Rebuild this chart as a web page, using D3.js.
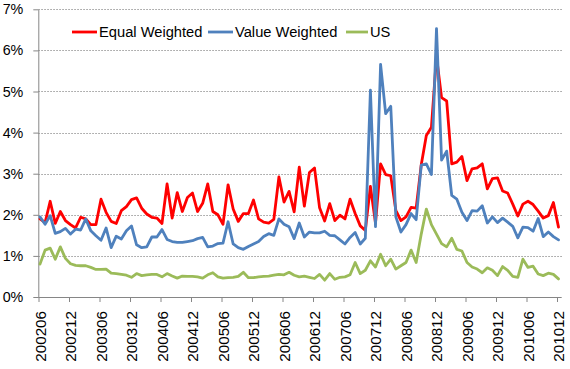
<!DOCTYPE html>
<html>
<head>
<meta charset="utf-8">
<script src="https://cdn.jsdelivr.net/npm/d3@7"></script>
<style>
  html, body { margin: 0; padding: 0; background: #fff; }
  svg { display: block; font-family: "Liberation Sans", Arial, sans-serif; }
</style>
</head>
<body>
<svg id="chart" width="570" height="369"></svg>
<script>
// ---- data ----
const startYear = 2002, startMonth = 6, nMonths = 103;
const categories = [];
for (let k = 0; k < nMonths; k++) {
  const m = startMonth - 1 + k;
  const yy = startYear + Math.floor(m / 12);
  const mm = (m % 12) + 1;
  categories.push(String(yy) + (mm < 10 ? "0" : "") + mm);
}
const tickLabels = ["200206","200212","200306","200312","200406","200412","200506","200512","200606",
  "200612","200706","200712","200806","200812","200906","200912","201006","201012"];
const yTickValues = [0, 1, 2, 3, 4, 5, 6, 7];
const seriesNames = ["Equal Weighted", "Value Weighted", "US"];

const equalWeighted = [
  1.90,1.81,2.33,1.79,2.08,1.86,1.76,1.68,1.94,1.90,
  1.76,1.76,2.38,2.06,1.84,1.79,2.10,2.20,2.37,2.41,
  2.16,2.02,1.94,1.92,1.79,2.75,1.92,2.54,2.08,2.42,
  2.53,2.08,2.28,2.75,2.08,2.00,1.77,2.73,2.14,1.84,
  2.03,2.03,2.36,1.90,1.82,1.80,1.89,2.92,2.31,2.57,
  2.07,3.16,2.21,3.03,3.14,2.17,1.85,2.27,1.86,1.99,
  1.90,2.38,2.03,1.73,1.62,2.69,1.80,3.24,2.98,2.95,
  2.11,1.86,1.95,2.18,2.16,3.22,3.93,4.13,5.85,4.85,
  4.77,3.24,3.28,3.42,2.83,3.12,3.14,3.24,2.63,2.88,
  2.90,2.58,2.53,2.26,1.97,2.26,2.33,2.25,2.09,1.92,
  1.98,2.30,1.70];
const valueWeighted = [
  1.95,1.77,1.98,1.55,1.59,1.67,1.53,1.65,1.63,1.90,
  1.61,1.49,1.38,1.68,1.20,1.48,1.41,1.61,1.73,1.27,
  1.20,1.22,1.46,1.46,1.64,1.40,1.35,1.33,1.33,1.35,
  1.37,1.42,1.45,1.22,1.24,1.30,1.31,1.83,1.29,1.20,
  1.16,1.23,1.29,1.35,1.47,1.54,1.50,1.90,1.77,1.71,
  1.42,1.80,1.46,1.58,1.56,1.56,1.60,1.50,1.49,1.39,
  1.29,1.45,1.57,1.29,1.43,5.03,1.71,5.66,4.46,4.64,
  1.95,1.58,1.76,2.03,1.88,3.21,3.24,2.98,6.53,3.33,
  3.55,2.47,2.38,2.06,1.86,2.10,2.09,2.22,1.80,1.95,
  1.81,1.92,1.82,1.72,1.44,1.70,1.69,1.60,1.91,1.47,
  1.58,1.47,1.39];
const us = [
  0.80,1.14,1.19,0.92,1.22,0.94,0.81,0.77,0.76,0.76,
  0.72,0.67,0.67,0.68,0.58,0.57,0.55,0.53,0.48,0.57,
  0.52,0.54,0.55,0.55,0.49,0.57,0.51,0.46,0.51,0.50,
  0.50,0.49,0.46,0.54,0.59,0.49,0.46,0.47,0.48,0.50,
  0.60,0.47,0.47,0.49,0.50,0.51,0.53,0.55,0.54,0.60,
  0.53,0.49,0.51,0.48,0.45,0.55,0.41,0.57,0.43,0.48,
  0.49,0.54,0.84,0.57,0.65,0.88,0.73,1.04,0.76,0.92,
  0.68,0.76,0.84,1.14,0.84,1.53,2.14,1.76,1.53,1.30,
  1.22,1.43,1.16,1.12,0.84,0.73,0.68,0.59,0.71,0.65,
  0.52,0.74,0.65,0.50,0.48,0.92,0.72,0.75,0.56,0.52,
  0.58,0.55,0.44];

// ---- layout ----
const colors = ["#ff0000", "#4f81bd", "#9bbb59"];
const svg = d3.select("#chart");
const plotLeft = 38.3, plotRight = 561.7, plotTop = 9.3, plotBottom = 297;

const x = d3.scaleLinear().domain([0, nMonths - 1]).range([40, 558.5]);
const y = d3.scaleLinear().domain([0, 7]).range([plotBottom, plotTop]);

// gridlines
svg.append("g").selectAll("line").data(yTickValues.filter(v => v > 0)).join("line")
  .attr("x1", plotLeft).attr("x2", plotRight + 1)
  .attr("y1", d => Math.round(y(d)) + 0.5).attr("y2", d => Math.round(y(d)) + 0.5)
  .attr("stroke", "#9a9a9a").attr("stroke-width", 1).attr("stroke-dasharray", "1.5,1.5");

// y axis
const yAxis = d3.axisLeft(y).tickValues(yTickValues).tickFormat(d => d + "%")
  .tickSizeInner(5).tickSizeOuter(0).tickPadding(10);
const gy = svg.append("g").attr("transform", `translate(${plotLeft},0)`).call(yAxis);
gy.select(".domain").attr("stroke", "#868686");
gy.selectAll(".tick line").attr("stroke", "#868686");
gy.selectAll(".tick text").attr("font-size", "14.3px").attr("fill", "#000")
  .attr("font-family", "'Liberation Sans', Arial, sans-serif");

// x axis
const tickIdx = tickLabels.map(l => categories.indexOf(l));
const xAxis = d3.axisBottom(x).tickValues(tickIdx).tickFormat(i => categories[i])
  .tickSizeInner(5).tickSizeOuter(0);
const gx = svg.append("g").attr("transform", `translate(0,${plotBottom})`).call(xAxis);
gx.select(".domain").remove();
gx.append("line").attr("x1", plotLeft).attr("x2", plotRight).attr("y1", 0.5).attr("y2", 0.5)
  .attr("stroke", "#868686");
gx.selectAll(".tick line").attr("stroke", "#868686").attr("transform", "translate(-1.5,0)");
gx.selectAll(".tick text")
  .attr("font-size", "15.2px").attr("fill", "#000")
  .attr("font-family", "'Liberation Sans', Arial, sans-serif")
  .attr("text-anchor", "end")
  .attr("transform", "translate(0,14) rotate(-90)")
  .attr("x", 0).attr("y", 0).attr("dy", "0.36em");

// lines
const series = [equalWeighted, valueWeighted, us];
const line = d3.line().x((d, i) => x(i)).y(d => y(d));
svg.append("g").selectAll("path").data(series).join("path")
  .attr("d", d => line(d))
  .attr("fill", "none")
  .attr("stroke", (d, i) => colors[i])
  .attr("stroke-width", 2.8)
  .attr("stroke-linejoin", "round")
  .attr("stroke-linecap", "round");

// legend
const legendItems = [
  { x: 72, len: 25 },
  { x: 208, len: 25 },
  { x: 346, len: 22 }
];
const lg = svg.append("g");
legendItems.forEach((it, i) => {
  lg.append("line").attr("x1", it.x).attr("x2", it.x + it.len)
    .attr("y1", 32).attr("y2", 32).attr("stroke", colors[i]).attr("stroke-width", 2.8);
  lg.append("text").attr("x", it.x + it.len + 2).attr("y", 32).attr("dy", "0.35em")
    .attr("font-size", "14.7px").attr("fill", "#000").text(seriesNames[i]);
});
</script>
</body>
</html>
